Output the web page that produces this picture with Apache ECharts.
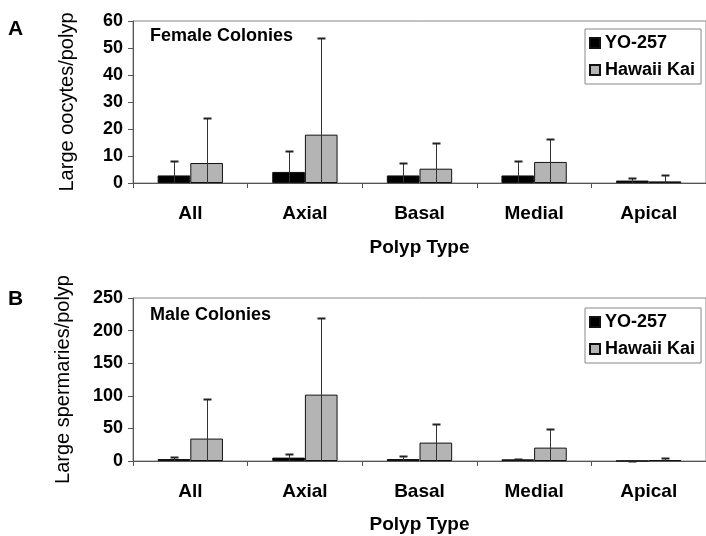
<!DOCTYPE html>
<html>
<head>
<meta charset="utf-8">
<title>Gametes per polyp by polyp type</title>
<script src="https://cdn.jsdelivr.net/npm/echarts@6/dist/echarts.min.js"></script>
<style>
  html, body { margin: 0; padding: 0; background: #fff; }
  #chart { width: 706px; height: 536px; }
</style>
</head>
<body>
<div id="chart"></div>
<script>
// Polyp types on the x axis
const polypTypes = ['All', 'Axial', 'Basal', 'Medial', 'Apical'];
const seriesNames = ['YO-257', 'Hawaii Kai'];

// Panel A: large oocytes per polyp (mean and SD)
const oocyteYoMean = [2.8, 4.1, 2.8, 2.8, 0.9];
const oocyteYoSd = [5.3, 7.8, 4.6, 5.3, 1.1];
const oocyteHkMean = [7.4, 17.9, 5.3, 7.8, 0.6];
const oocyteHkSd = [16.7, 35.8, 9.5, 8.6, 2.5];

// Panel B: large spermaries per polyp (mean and SD)
const spermYoMean = [3.0, 5.2, 3.0, 2.5, 0.2];
const spermYoSd = [3.0, 5.1, 5.2, 0.3, 0.2];
const spermHkMean = [34.4, 101.8, 28.2, 20.5, 1.5];
const spermHkSd = [61.3, 118.2, 29.2, 29.2, 2.5];

const FONT = "'Liberation Sans', Arial, sans-serif";
const CAT_GAP = 0.43;

function errData(mean, sd) {
  return mean.map((m, i) => [i, m, sd[i]]);
}

// Whisker drawn over each bar: stem from the baseline to mean + SD, capped at the top
function errRenderer(side) {
  return function (params, api) {
    const idx = api.value(0);
    const mean = api.value(1);
    const sd = api.value(2);
    const band = api.size([1, 0])[0];
    const dx = side * band * (1 - CAT_GAP) / 4;
    const base = api.coord([idx, Math.max(0, mean - sd)]);
    const top = api.coord([idx, mean + sd]);
    const x = Math.round(base[0] + dx) + 0.5;
    const yTop = Math.round(top[1]) + 0.5;
    return {
      type: 'group',
      children: [
        { type: 'line', shape: { x1: x, y1: base[1], x2: x, y2: yTop },
          style: { stroke: '#333', lineWidth: 1 } },
        { type: 'line', shape: { x1: x - 4, y1: yTop, x2: x + 4, y2: yTop },
          style: { stroke: '#222', lineWidth: 2 } }
      ]
    };
  };
}

function barSeries(name, data, idx, color) {
  return {
    name: name, type: 'bar', xAxisIndex: idx, yAxisIndex: idx,
    data: data, barGap: '0%', barCategoryGap: (CAT_GAP * 100) + '%',
    itemStyle: { color: color, borderColor: '#111', borderWidth: 1 },
    emphasis: { disabled: true }, z: 2
  };
}

function errSeries(mean, sd, idx, side) {
  return {
    type: 'custom', xAxisIndex: idx, yAxisIndex: idx,
    data: errData(mean, sd), encode: { x: 0, y: 1 },
    renderItem: errRenderer(side), z: 5, silent: true
  };
}

function xAxisFor(idx, labelMargin, nameGap) {
  return {
    type: 'category', gridIndex: idx, data: polypTypes,
    axisLine: { lineStyle: { color: '#555', width: 1 } },
    axisTick: { show: true, length: 5, alignWithLabel: false, lineStyle: { color: '#555' } },
    axisLabel: { margin: labelMargin, fontFamily: FONT, fontSize: 19, fontWeight: 'bold', color: '#000' },
    name: 'Polyp Type', nameLocation: 'middle', nameGap: nameGap,
    nameTextStyle: { fontFamily: FONT, fontSize: 19, fontWeight: 'bold', color: '#000' }
  };
}

function yAxisFor(idx, max, interval, name, nameGap) {
  return {
    type: 'value', gridIndex: idx, min: 0, max: max, interval: interval,
    axisLine: { show: true, lineStyle: { color: '#555', width: 1 } },
    axisTick: { show: true, length: 5, lineStyle: { color: '#555' } },
    splitLine: { show: false },
    axisLabel: { margin: 10, fontFamily: FONT, fontSize: 18, fontWeight: 'bold', color: '#000' },
    name: name, nameLocation: 'middle', nameGap: nameGap, nameRotate: 90,
    nameTextStyle: { fontFamily: FONT, fontSize: 20, color: '#000' }
  };
}

function legendFor(top) {
  return {
    data: seriesNames, orient: 'vertical', left: 585, top: top,
    icon: 'rect', itemWidth: 10, itemHeight: 10, itemGap: 9,
    padding: [5, 6, 5, 4], borderColor: '#888', borderWidth: 1,
    selectedMode: false,
    textStyle: { fontFamily: FONT, fontSize: 18, fontWeight: 'bold', color: '#000' }
  };
}

function label(text, x, y, size) {
  return {
    type: 'text', left: x, top: y,
    style: { text: text, fontFamily: FONT, fontSize: size, fontWeight: 'bold', fill: '#000' }
  };
}

const chart = echarts.init(document.getElementById('chart'), null, { renderer: 'canvas' });

chart.setOption({
  animation: false,
  backgroundColor: '#fff',
  grid: [
    { left: 133, top: 21, right: -2, height: 162, show: true, borderColor: '#888', borderWidth: 1 },
    { left: 133, top: 298, right: -2, height: 163, show: true, borderColor: '#888', borderWidth: 1 }
  ],
  xAxis: [xAxisFor(0, 21, 55), xAxisFor(1, 21, 54)],
  yAxis: [
    yAxisFor(0, 60, 10, 'Large oocytes/polyp', 56),
    yAxisFor(1, 250, 50, 'Large spermaries/polyp', 60)
  ],
  legend: [legendFor(29), legendFor(308)],
  series: [
    barSeries('YO-257', oocyteYoMean, 0, '#000'),
    barSeries('Hawaii Kai', oocyteHkMean, 0, '#b4b4b4'),
    errSeries(oocyteYoMean, oocyteYoSd, 0, -1),
    errSeries(oocyteHkMean, oocyteHkSd, 0, 1),
    barSeries('YO-257', spermYoMean, 1, '#000'),
    barSeries('Hawaii Kai', spermHkMean, 1, '#b4b4b4'),
    errSeries(spermYoMean, spermYoSd, 1, -1),
    errSeries(spermHkMean, spermHkSd, 1, 1)
  ],
  graphic: [
    label('A', 8, 19, 21),
    label('B', 8, 289, 21),
    label('Female Colonies', 150, 27, 18),
    label('Male Colonies', 150, 306, 18)
  ]
});
</script>
</body>
</html>
